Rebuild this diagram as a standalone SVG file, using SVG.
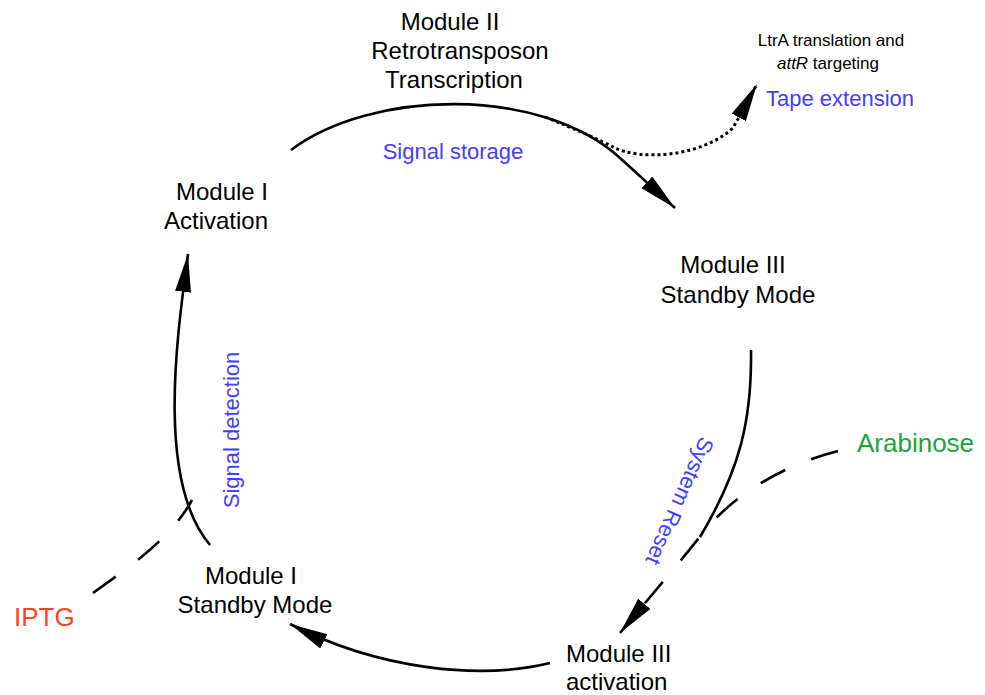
<svg xmlns="http://www.w3.org/2000/svg" width="985" height="695" viewBox="0 0 985 695">
  <style>
    .lbl { font-family: "Liberation Sans", Arial, sans-serif; font-size: 24px; fill: #000; text-anchor: middle; }
    .lbl.left { text-anchor: start; }
    .note { font-family: "Liberation Sans", Arial, sans-serif; font-size: 17px; fill: #000; text-anchor: middle; }
    .step { font-family: "Liberation Sans", Arial, sans-serif; font-size: 22px; fill: #4040ff; }
    .inducer { font-family: "Liberation Sans", Arial, sans-serif; font-size: 26px; }
    .solid { fill: none; stroke: #000; stroke-width: 2.6; }
    .dash { fill: none; stroke: #000; stroke-width: 2.6; stroke-dasharray: 28 28; }
    .dot { fill: none; stroke: #000; stroke-width: 3; stroke-dasharray: 3 3; }
  </style>
  <defs>
    <marker id="head" markerUnits="userSpaceOnUse" markerWidth="40" markerHeight="18" refX="38" refY="8" orient="auto">
      <path d="M0,0 L38,8 L0,16 z" fill="#000"/>
    </marker>
  </defs>
  <rect width="985" height="695" fill="#fff"/>

  <g id="connectors">
    <!-- Module I activation -> Module II (signal storage) -->
    <path class="solid" d="M291,150 C370,90 540,85 620,158 L675,208" marker-end="url(#head)"/>
    <!-- branch to tape extension -->
    <path class="dot" d="M545,117 Q590,135 615,148 C640,160 700,158 733,128 L757,84" marker-end="url(#head)"/>
    <!-- Module III standby -> system reset -->
    <path class="solid" d="M751,350 C752,420 740,470 700,537"/>
    <!-- arabinose input -> Module III activation -->
    <path class="dash" d="M838,451 C780,466 735,495 705,530 C690,550 660,585 620,633" marker-end="url(#head)"/>
    <!-- Module III activation -> Module I standby -->
    <path class="solid" d="M550,663 C480,680 380,670 290,624" marker-end="url(#head)"/>
    <!-- Module I standby -> Module I activation (signal detection) -->
    <path class="solid" d="M210,545 C155,480 178,330 188,254" marker-end="url(#head)"/>
    <!-- IPTG input -->
    <path class="dash" d="M93,593 C130,566 170,540 192,500"/>
  </g>

  <g id="module2-transcription">
    <text class="lbl" x="450" y="30">Module II</text>
    <text class="lbl" x="460" y="59">Retrotransposon</text>
    <text class="lbl" x="454" y="88">Transcription</text>
  </g>
  <g id="module1-activation">
    <text class="lbl" x="222" y="200">Module I</text>
    <text class="lbl" x="216" y="229">Activation</text>
  </g>
  <g id="module3-standby">
    <text class="lbl" x="733" y="273">Module III</text>
    <text class="lbl" x="738" y="303">Standby Mode</text>
  </g>
  <g id="module1-standby">
    <text class="lbl" x="251" y="584">Module I</text>
    <text class="lbl" x="255" y="613">Standby Mode</text>
  </g>
  <g id="module3-activation">
    <text class="lbl left" x="566" y="662">Module III</text>
    <text class="lbl left" x="566" y="690">activation</text>
  </g>
  <g id="tape-extension">
    <text class="note" x="831" y="46">LtrA translation and</text>
    <text class="note" x="828" y="69"><tspan font-style="italic">attR</tspan> targeting</text>
    <text class="step" x="766" y="106">Tape extension</text>
  </g>
  <g id="arabinose">
    <text class="inducer" x="857" y="452" fill="#1ca43c">Arabinose</text>
  </g>
  <g id="iptg">
    <text class="inducer" x="14" y="626" fill="#ff4422">IPTG</text>
  </g>

  <g id="step-labels">
    <text class="step" x="453" y="159" text-anchor="middle">Signal storage</text>
    <text class="step" text-anchor="middle" transform="translate(239,430) rotate(-90)">Signal detection</text>
    <text class="step" text-anchor="middle" transform="translate(673,498) rotate(114)">System Reset</text>
  </g>
</svg>
